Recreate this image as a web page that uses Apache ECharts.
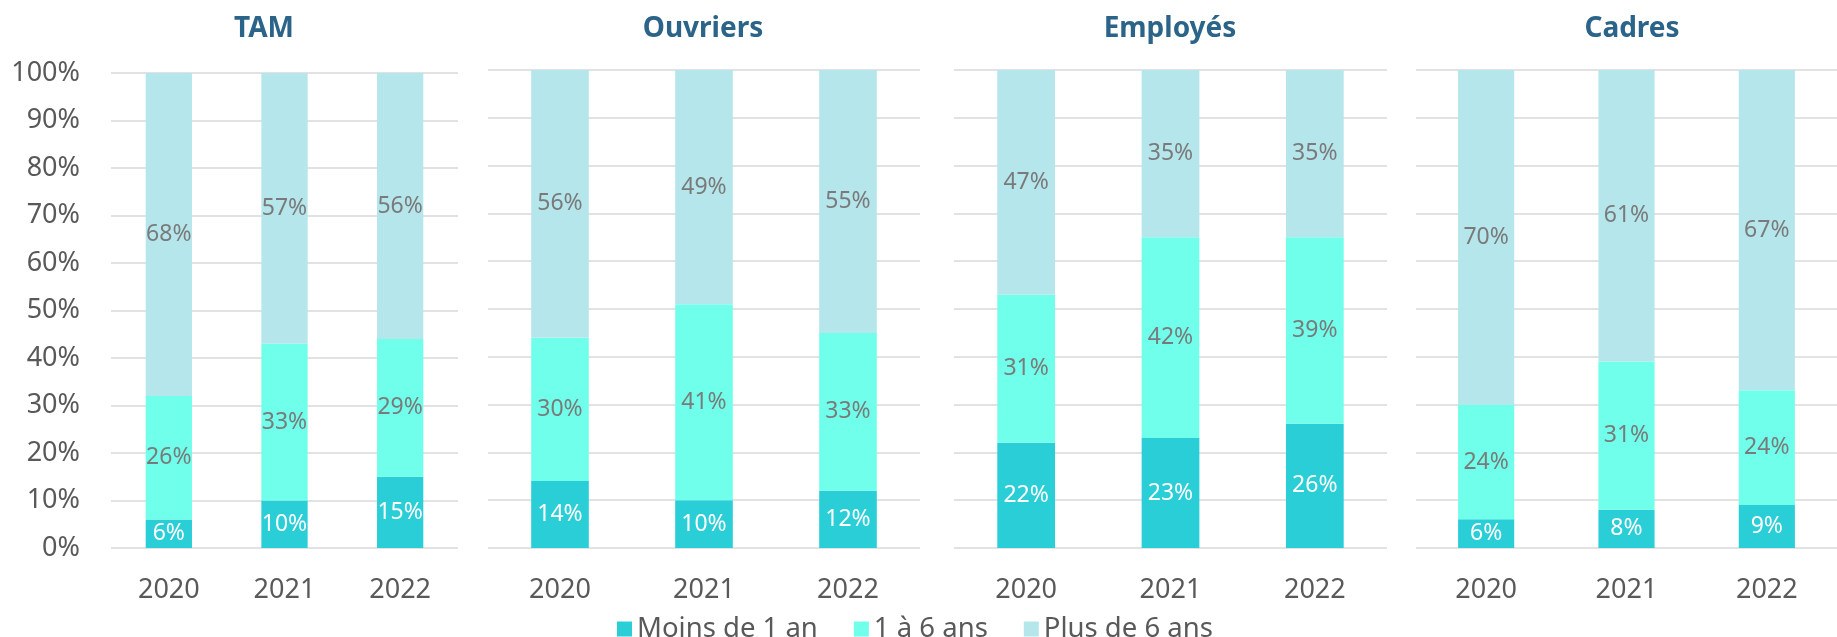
<!DOCTYPE html>
<html>
<head>
<meta charset="utf-8">
<script src="https://cdn.jsdelivr.net/npm/echarts@6/dist/echarts.min.js"></script>
<style>
  html, body { margin: 0; padding: 0; background: #fff; }
  #chart { width: 1837px; height: 637px; }
</style>
</head>
<body>
<div id="chart"></div>
<script>
// data
const years = ['2020', '2021', '2022'];
const groups = ['TAM', 'Ouvriers', 'Employés', 'Cadres'];
const seriesNames = ['Moins de 1 an', '1 à 6 ans', 'Plus de 6 ans'];
const yTicks = [0, 10, 20, 30, 40, 50, 60, 70, 80, 90, 100];

// per group: [moins de 1 an, 1 à 6 ans, plus de 6 ans], one value per year
const tam = [[6, 10, 15], [26, 33, 29], [68, 57, 56]];
const ouvriers = [[14, 10, 12], [30, 41, 33], [56, 49, 55]];
const employes = [[22, 23, 26], [31, 42, 39], [47, 35, 35]];
const cadres = [[6, 8, 9], [24, 31, 24], [70, 61, 67]];
const groupData = [tam, ouvriers, employes, cadres];

const colors = ['#29CED7', '#70FFEA', '#B5E6EC'];
const labelColors = ['#ffffff', '#7a7a7a', '#7a7a7a'];
const FONT = '"Noto Sans", sans-serif';

// panel boxes (px)
const panels = [
  { left: 111, top: 73, width: 347, height: 475, titleX: 264 },
  { left: 488, top: 70, width: 432, height: 478, titleX: 703 },
  { left: 954, top: 70, width: 433, height: 478, titleX: 1170 },
  { left: 1416, top: 70, width: 434, height: 478, titleX: 1632 }
];

const chart = echarts.init(document.getElementById('chart'));

const grid = [], xAxis = [], yAxis = [], series = [], graphic = [];
panels.forEach((p, i) => {
  grid.push({ left: p.left, top: p.top, width: p.width, height: p.height, containLabel: false });
  xAxis.push({
    type: 'category', gridIndex: i, data: years,
    axisLine: { show: false }, axisTick: { show: false },
    axisLabel: { color: '#595959', fontFamily: FONT, fontSize: 27, margin: 29 }
  });
  yAxis.push({
    type: 'value', gridIndex: i, min: yTicks[0], max: yTicks[yTicks.length - 1], interval: 10,
    axisLine: { show: false }, axisTick: { show: false },
    splitLine: { lineStyle: { color: '#d9d9d9', width: 1.5 } },
    axisLabel: {
      show: i === 0, color: '#595959', fontFamily: FONT, fontSize: 27, margin: 31,
      formatter: v => v + '%'
    }
  });
  graphic.push({
    type: 'text', x: p.titleX, y: 29,
    style: {
      text: groups[i], textAlign: 'center', textVerticalAlign: 'middle',
      fill: '#2B6488', font: 'bold 28px "Noto Sans", sans-serif'
    }
  });
  groupData[i].forEach((vals, s) => {
    series.push({
      name: seriesNames[s], type: 'bar', stack: 'g' + i,
      xAxisIndex: i, yAxisIndex: i, data: vals, barWidth: '40%',
      itemStyle: { color: colors[s] },
      label: {
        show: true, position: 'inside', color: labelColors[s],
        fontFamily: FONT, fontSize: 23, formatter: '{c}%'
      },
      emphasis: { disabled: true }
    });
  });
});

chart.setOption({
  animation: false,
  legend: {
    data: seriesNames, left: 612, top: 610,
    itemWidth: 15, itemHeight: 15, itemGap: 36,
    icon: 'rect',
    textStyle: { color: '#595959', fontFamily: FONT, fontSize: 27.5 }
  },
  grid, xAxis, yAxis, series, graphic
});
</script>
</body>
</html>
